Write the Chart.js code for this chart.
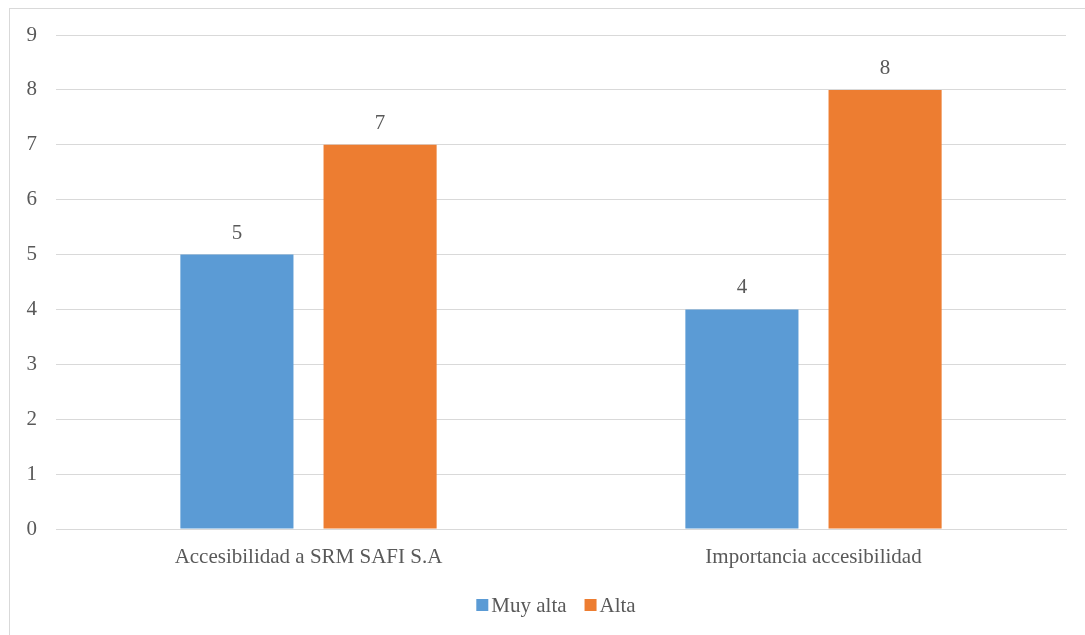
<!DOCTYPE html>
<html>
<head>
<meta charset="utf-8">
<script src="https://cdn.jsdelivr.net/npm/chart.js@4.4.1/dist/chart.umd.min.js"></script>
<style>
  html, body { margin: 0; padding: 0; background: #ffffff; }
  #wrap { position: absolute; left: 0; top: 0; width: 1085px; height: 635px; }
</style>
</head>
<body>
<div id="wrap"><canvas id="c" width="1085" height="635"></canvas></div>
<script>
const categories = ['Accesibilidad a SRM SAFI S.A', 'Importancia accesibilidad'];
const muyAlta = [5, 4];
const alta = [7, 8];
const yTicks = [0, 1, 2, 3, 4, 5, 6, 7, 8, 9];

const FONT = '"Liberation Serif", "DejaVu Serif", serif';
const FONT_SIZE = 21;
const TEXT = '#595959';
const GRID = '#D9D9D9';

// Thin frame around the chart block
const framePlugin = {
  id: 'frame',
  beforeDraw(chart) {
    const ctx = chart.ctx;
    ctx.save();
    ctx.strokeStyle = GRID;
    ctx.lineWidth = 1;
    ctx.strokeRect(9.5, 8.5, 1200, 1000);
    ctx.restore();
  }
};

// Value printed above each bar
const valueLabels = {
  id: 'valueLabels',
  afterDatasetsDraw(chart) {
    const ctx = chart.ctx;
    ctx.save();
    ctx.font = FONT_SIZE + 'px ' + FONT;
    ctx.fillStyle = TEXT;
    ctx.textAlign = 'center';
    ctx.textBaseline = 'alphabetic';
    chart.data.datasets.forEach((ds, i) => {
      chart.getDatasetMeta(i).data.forEach((bar, j) => {
        ctx.fillText(String(ds.data[j]), bar.x, bar.y - 16);
      });
    });
    ctx.restore();
  }
};

// Compact legend centred under the axis
const bottomLegend = {
  id: 'bottomLegend',
  afterDraw(chart) {
    const ctx = chart.ctx;
    const box = 12, gapText = 3, gapItem = 18;
    ctx.save();
    ctx.font = FONT_SIZE + 'px ' + FONT;
    const items = chart.data.datasets.map(ds => ({
      text: ds.label, color: ds.backgroundColor, w: ctx.measureText(ds.label).width
    }));
    let total = items.reduce((s, it) => s + box + gapText + it.w, 0) + gapItem * (items.length - 1);
    let x = (chart.chartArea.left + chart.chartArea.right) / 2 - 5 - total / 2;
    const cy = 605;
    ctx.textBaseline = 'middle';
    ctx.textAlign = 'left';
    items.forEach(it => {
      ctx.fillStyle = it.color;
      ctx.fillRect(x, cy - box / 2, box, box);
      x += box + gapText;
      ctx.fillStyle = TEXT;
      ctx.fillText(it.text, x, cy + 1);
      x += it.w + gapItem;
    });
    ctx.restore();
  }
};

new Chart(document.getElementById('c'), {
  type: 'bar',
  data: {
    labels: categories,
    datasets: [
      { label: 'Muy alta', data: muyAlta, backgroundColor: '#5B9BD5',
        categoryPercentage: 0.567, barPercentage: 0.79 },
      { label: 'Alta', data: alta, backgroundColor: '#ED7D31',
        categoryPercentage: 0.567, barPercentage: 0.79 }
    ]
  },
  options: {
    responsive: false,
    animation: false,
    devicePixelRatio: 1,
    layout: { padding: { left: 10, right: 19, top: 35, bottom: 60 } },
    plugins: {
      legend: { display: false },
      tooltip: { enabled: false }
    },
    scales: {
      x: {
        grid: { display: false },
        border: { color: GRID, width: 1 },
        ticks: { color: TEXT, font: { family: FONT, size: FONT_SIZE }, padding: 8 },
        afterFit(scale) { scale.height = 46; }
      },
      y: {
        min: 0, max: 9,
        afterBuildTicks(scale) { scale.ticks = yTicks.map(v => ({ value: v })); },
        grid: { color: GRID, drawTicks: false },
        border: { display: false },
        ticks: { color: TEXT, font: { family: FONT, size: FONT_SIZE }, padding: 19 },
        afterFit(scale) { scale.width = 46; }
      }
    }
  },
  plugins: [framePlugin, valueLabels, bottomLegend]
});
</script>
</body>
</html>
